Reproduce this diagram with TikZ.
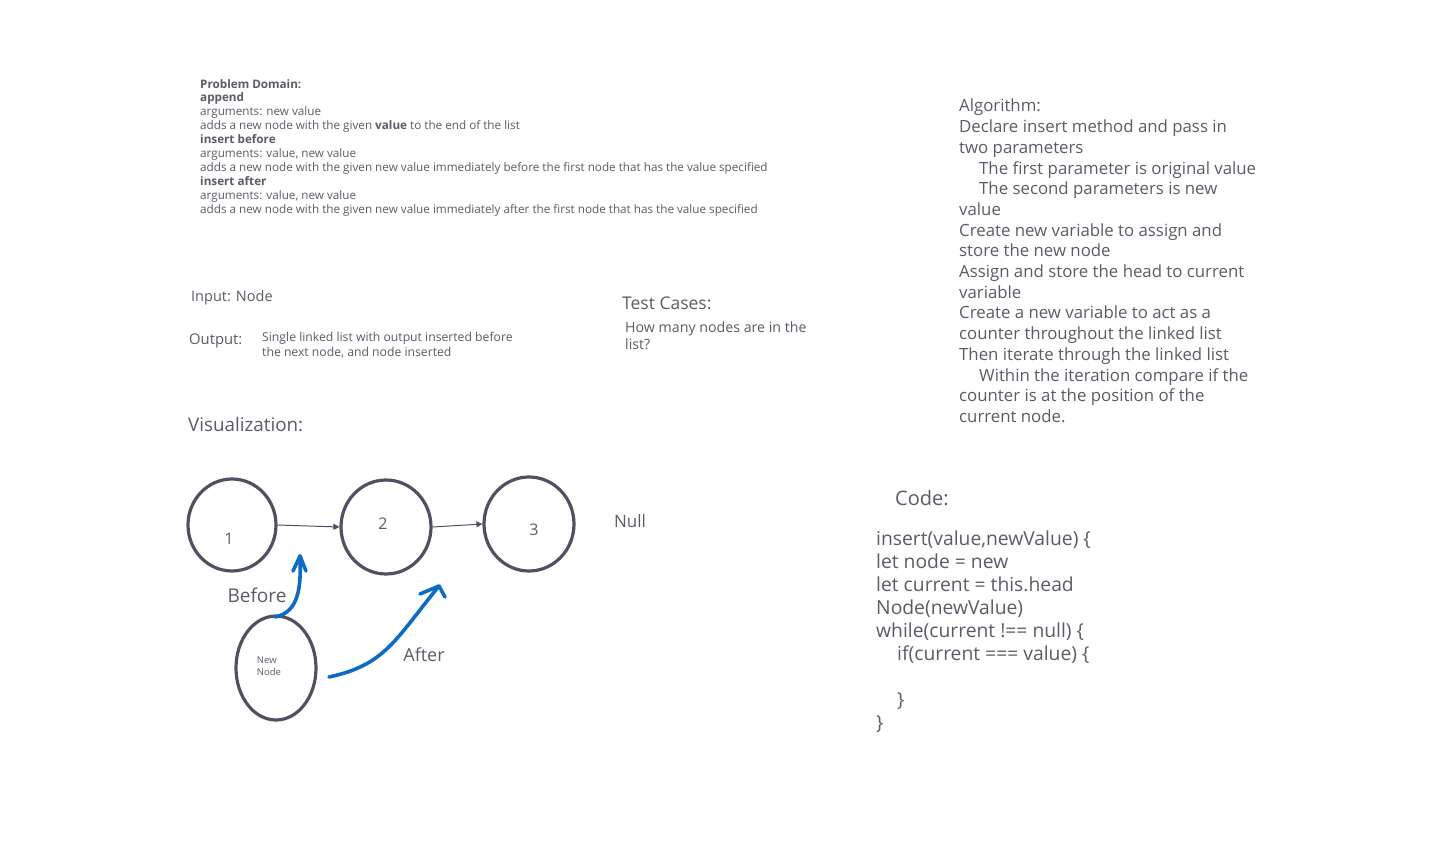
\documentclass[tikz,border=0pt]{standalone}
\usepackage{fontspec}
\setmainfont{Open Sans}
\usepackage{tikz}
\usetikzlibrary{shapes.geometric,arrows.meta}

\definecolor{inkgray}{RGB}{88,92,102}
\definecolor{ringgray}{RGB}{78,82,96}
\definecolor{penblue}{RGB}{12,108,196}

\tikzset{
	txt/.style={anchor=north west,inner sep=0pt,align=left,text=inkgray},
	ring/.style={shape=ellipse,draw=ringgray,line width=3.2pt,minimum width=#1},
	link/.style={draw=ringgray,line width=1pt,-{Triangle[length=6pt,width=6pt]}},
	pen/.style={draw=penblue,line width=3.6pt,line cap=round,line join=round}
}

\begin{document}
\begin{tikzpicture}[x=1pt,y=-1pt]
	\useasboundingbox (0,0) rectangle (1452,845);

	% problem domain
	\node[txt,font={\fontsize{11.7}{13.9}\selectfont}] (domain) at (200,79) {%
		\textbf{Problem Domain:}\\
		\textbf{append}\\
		arguments: new value\\
		adds a new node with the given \textbf{value} to the end of the list\\
		\textbf{insert before}\\
		arguments: value, new value\\
		adds a new node with the given new value immediately before the first node that has the value specified\\
		\textbf{insert after}\\
		arguments: value, new value\\
		adds a new node with the given new value immediately after the first node that has the value specified};

	\node[txt,font={\fontsize{14.5}{17}\selectfont}] (input) at (191,290) {Input: Node};
	\node[txt,font={\fontsize{14.8}{17}\selectfont}] (output) at (189,334) {Output:};
	\node[txt,font={\fontsize{12.2}{15}\selectfont}] (outtext) at (262,332) {Single linked list with output inserted before\\the next node, and node inserted};

	\node[txt,font={\fontsize{17.5}{20}\selectfont}] (tests) at (622,297) {Test Cases:};
	\node[txt,font={\fontsize{14.2}{17}\selectfont}] (testtext) at (625,322) {How many nodes are in the\\list?};

	\node[txt,font={\fontsize{18.8}{21}\selectfont}] (vis) at (188,417) {Visualization:};

	% algorithm
	\node[txt,font={\fontsize{16.8}{20.7}\selectfont}] (algo) at (959,99) {%
		Algorithm:\\
		Declare insert method and pass in\\
		two parameters\\
		\hspace*{20pt}The first parameter is original value\\
		\hspace*{20pt}The second parameters is new\\
		value\\
		Create new variable to assign and\\
		store the new node\\
		Assign and store the head to current\\
		variable\\
		Create a new variable to act as a\\
		counter throughout the linked list\\
		Then iterate through the linked list\\
		\hspace*{20pt}Within the iteration compare if the\\
		counter is at the position of the\\
		current node.};

	% code
	\node[txt,font={\fontsize{20}{23}\selectfont}] (code) at (895,490) {Code:};
	\node[txt,font={\fontsize{19.3}{23}\selectfont}] (codetext) at (876,531) {%
		insert(value,newValue) \{\\
		let node = new\\
		let current = this.head\\
		Node(newValue)\\
		while(current !== null) \{\\
		\hspace*{21pt}if(current === value) \{\\
		\mbox{}\\
		\hspace*{21pt}\}\\
		\}};

	% linked list
	\node[ring=88pt,minimum height=92pt] (n1) at (232,525) {};
	\node[ring=90pt,minimum height=94pt] (n2) at (386,527) {};
	\node[ring=90pt,minimum height=94pt] (n3) at (529,524) {};
	\node[ring=80pt,minimum height=104pt] (nn) at (276,668) {};

	\node[text=inkgray,font={\fontsize{16}{16}\selectfont}] (l1) at (229,539) {1};
	\node[text=inkgray,font={\fontsize{16}{16}\selectfont}] (l2) at (383,524) {2};
	\node[text=inkgray,font={\fontsize{16}{16}\selectfont}] (l3) at (534,530) {3};
	\node[text=inkgray,align=left,font={\fontsize{9.5}{12}\selectfont}] (lnew) at (269,666) {New\\Node};
	\node[text=inkgray,font={\fontsize{17}{17}\selectfont}] (null) at (630,521) {Null};

	\path[link] (n1.east) to (n2.west);
	\path[link] (n2.east) to (n3.west);

	% blue arrows
	\coordinate (bstart) at (275,617);
	\coordinate (btip) at (300,556);
	\coordinate (astart) at (329,677);
	\coordinate (atip) at (439,586);
	\draw[pen] (bstart) .. controls (300,612) and (301,585) .. (btip);
	\draw[pen] (293,571) -- (btip) -- (306,571);
	\draw[pen] (astart) .. controls (385,665) and (395,640) .. (atip);
	\draw[pen] (420,594) -- (atip) -- (445,597);

	\node[text=inkgray,font={\fontsize{19}{19}\selectfont}] (before) at (257,595) {Before};
	\node[text=inkgray,font={\fontsize{18}{18}\selectfont}] (after) at (424,655) {After};
\end{tikzpicture}
\end{document}
